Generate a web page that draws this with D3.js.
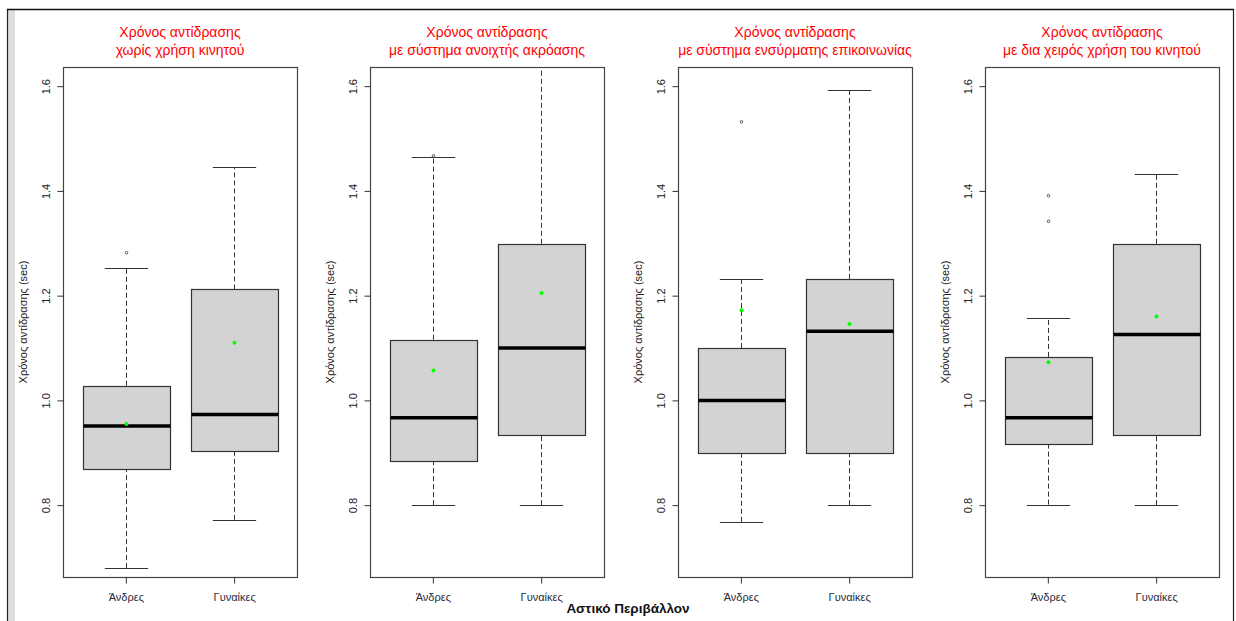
<!DOCTYPE html>
<html>
<head>
<meta charset="utf-8">
<script src="https://cdn.jsdelivr.net/npm/d3@7"></script>
<style>
  html, body { margin: 0; padding: 0; background: #fff; }
  svg { display: block; }
</style>
</head>
<body>
<svg id="chart" width="1236" height="621"></svg>
<script>
// Reaction time (sec) by gender, urban environment, four phone-use conditions
const titleLine1 = "Χρόνος αντίδρασης";
const titleLine2 = [
  "χωρίς χρήση κινητού",
  "με σύστημα ανοιχτής ακρόασης",
  "με σύστημα ενσύρματης επικοινωνίας",
  "με δια χειρός χρήση του κινητού"
];
const groups = ["Άνδρες", "Γυναίκες"];
const yTicks = [0.8, 1.0, 1.2, 1.4, 1.6];
const yLabel = "Χρόνος αντίδρασης (sec)";
const xLabel = "Αστικό Περιβάλλον";

// box statistics per panel, [Άνδρες, Γυναίκες]
const lowerWhisker = [[0.680, 0.772], [0.800, 0.800], [0.768, 0.800], [0.801, 0.800]];
const q1           = [[0.869, 0.903], [0.884, 0.933], [0.899, 0.899], [0.916, 0.933]];
const median       = [[0.951, 0.973], [0.967, 1.100], [1.000, 1.132], [0.967, 1.126]];
const q3           = [[1.028, 1.212], [1.116, 1.299], [1.100, 1.232], [1.083, 1.299]];
const upperWhisker = [[1.253, 1.445], [1.465, 1.700], [1.232, 1.592], [1.157, 1.433]];
const means        = [[0.955, 1.110], [1.057, 1.205], [1.172, 1.146], [1.073, 1.160]];
const outliers     = [[[1.282], []], [[1.467], []], [[1.532], []], [[1.391, 1.342], []]];

const FONT = "'Liberation Sans', Arial, sans-serif";
const svg = d3.select("#chart");

// window frame
svg.append("rect").attr("x", 8).attr("y", 10).attr("width", 7).attr("height", 611).attr("fill", "#dedede");
svg.append("line").attr("x1", 7.5).attr("x2", 7.5).attr("y1", 9).attr("y2", 621).attr("stroke", "#222").attr("stroke-width", 1.2);
svg.append("line").attr("x1", 1233.5).attr("x2", 1233.5).attr("y1", 9).attr("y2", 621).attr("stroke", "#222").attr("stroke-width", 1.2);
svg.append("line").attr("x1", 7).attr("x2", 1234).attr("y1", 9.5).attr("y2", 9.5).attr("stroke", "#111").attr("stroke-width", 1.5);

const plotTop = 67, plotBottom = 577, plotWidth = 234, panelStep = 307.33, firstLeft = 63;

const y = d3.scaleLinear().domain([0.6628, 1.6366]).range([plotBottom, plotTop]);

titleLine2.forEach((sub, p) => {
  const left = Math.round(firstLeft + p * panelStep);
  const x = d3.scaleLinear().domain([0.42, 2.58]).range([left, left + plotWidth]);
  const unit = x(1) - x(0);
  const g = svg.append("g");
  const clipId = "clip" + p;
  g.append("clipPath").attr("id", clipId)
    .append("rect").attr("x", left).attr("y", plotTop).attr("width", plotWidth).attr("height", plotBottom - plotTop);

  // title
  const cx = left + plotWidth / 2;
  g.append("text").attr("x", cx).attr("y", 37).attr("text-anchor", "middle")
    .attr("font-family", FONT).attr("font-size", 14).attr("fill", "#ff0000").text(titleLine1);
  g.append("text").attr("x", cx).attr("y", 55).attr("text-anchor", "middle")
    .attr("font-family", FONT).attr("font-size", 14).attr("fill", "#ff0000").text(sub);

  const marks = g.append("g").attr("clip-path", `url(#${clipId})`);

  groups.forEach((name, i) => {
    const c = Math.round(x(i + 1)) + 0.5;
    const half = 0.4 * unit;
    const capHalf = 0.2 * unit;
    // whiskers
    [[lowerWhisker[p][i], q1[p][i]], [q3[p][i], upperWhisker[p][i]]].forEach(([a, b]) => {
      marks.append("line").attr("x1", c).attr("x2", c).attr("y1", y(a)).attr("y2", y(b))
        .attr("stroke", "#333").attr("stroke-width", 1).attr("stroke-dasharray", "5,3");
    });
    [lowerWhisker[p][i], upperWhisker[p][i]].forEach(v => {
      marks.append("line").attr("x1", c - capHalf).attr("x2", c + capHalf)
        .attr("y1", Math.round(y(v)) + 0.5).attr("y2", Math.round(y(v)) + 0.5)
        .attr("stroke", "#333").attr("stroke-width", 1.2);
    });
    // box
    const bx = Math.round(c - half) + 0.5, bw = Math.round(2 * half);
    marks.append("rect").attr("x", bx).attr("width", bw)
      .attr("y", Math.round(y(q3[p][i])) + 0.5)
      .attr("height", Math.round(y(q1[p][i])) - Math.round(y(q3[p][i])))
      .attr("fill", "#d3d3d3").attr("stroke", "#333").attr("stroke-width", 1.2);
    // median
    marks.append("line").attr("x1", bx).attr("x2", bx + bw)
      .attr("y1", y(median[p][i])).attr("y2", y(median[p][i]))
      .attr("stroke", "#000").attr("stroke-width", 3.5);
    // outliers
    outliers[p][i].forEach(v => {
      marks.append("circle").attr("cx", c).attr("cy", y(v)).attr("r", 1.3)
        .attr("fill", "none").attr("stroke", "#444").attr("stroke-width", 0.9);
    });
    // mean
    marks.append("circle").attr("cx", c).attr("cy", y(means[p][i])).attr("r", 2)
      .attr("fill", "#00ff00");
  });

  // plot frame
  g.append("rect").attr("x", left + 0.5).attr("y", plotTop + 0.5)
    .attr("width", plotWidth).attr("height", plotBottom - plotTop)
    .attr("fill", "none").attr("stroke", "#444").attr("stroke-width", 1.2);

  // y axis
  const yAxis = d3.axisLeft(y).tickValues(yTicks).tickFormat(d3.format(".1f")).tickSize(6).tickPadding(0);
  const ya = g.append("g").attr("transform", `translate(${left + 0.5},0)`).call(yAxis);
  ya.select(".domain").remove();
  ya.selectAll(".tick line").attr("stroke", "#333");
  ya.selectAll(".tick text")
    .attr("font-family", FONT).attr("font-size", 11).attr("fill", "#222")
    .attr("text-anchor", "middle").attr("dy", 0).attr("x", 0)
    .attr("transform", "translate(-14,0) rotate(-90)");

  // x axis
  const xAxis = d3.axisBottom(x).tickValues([1, 2]).tickFormat((d) => groups[d - 1]).tickSize(6).tickPadding(10);
  const xa = g.append("g").attr("transform", `translate(0,${plotBottom + 0.5})`).call(xAxis);
  xa.select(".domain").remove();
  xa.selectAll(".tick line").attr("stroke", "#333");
  xa.selectAll(".tick text").attr("font-family", FONT).attr("font-size", 11).attr("fill", "#2a2a3a");

  // y title
  g.append("text").attr("transform", `translate(${left - 36},${(plotTop + plotBottom) / 2}) rotate(-90)`)
    .attr("text-anchor", "middle").attr("font-family", FONT).attr("font-size", 11)
    .attr("fill", "#222").text(yLabel);
});

svg.append("text").attr("x", 628).attr("y", 613).attr("text-anchor", "middle")
  .attr("font-family", FONT).attr("font-size", 13.5).attr("font-weight", "bold")
  .attr("fill", "#111").text(xLabel);
</script>
</body>
</html>
